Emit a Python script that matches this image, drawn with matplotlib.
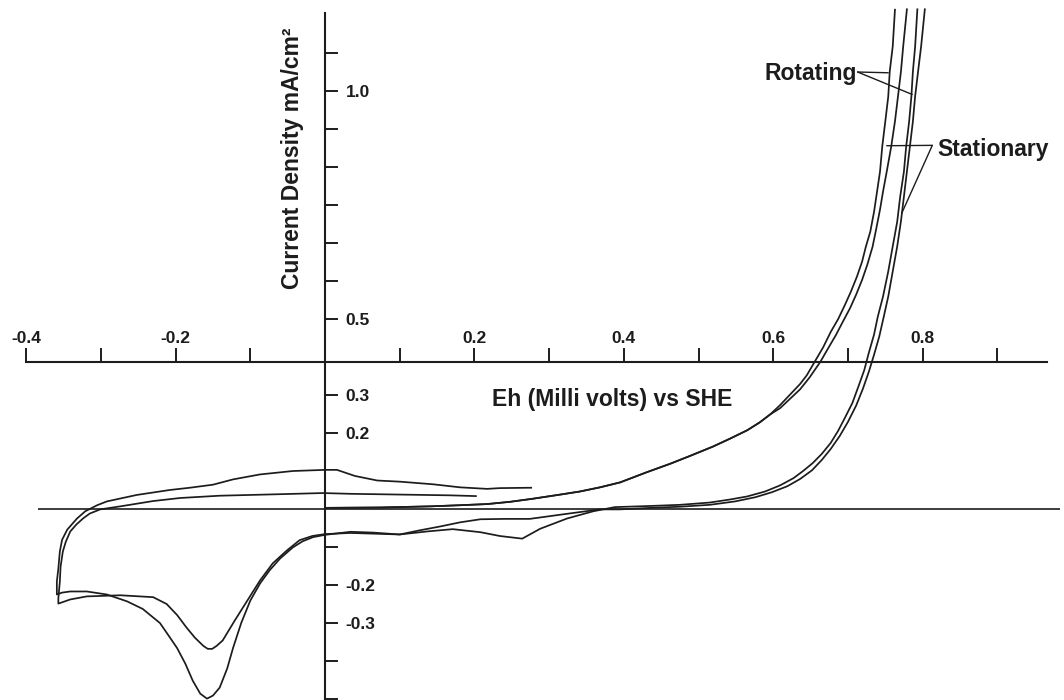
import matplotlib.pyplot as plt

plt.rcParams['font.family'] = ['Liberation Sans', 'DejaVu Sans']
plt.rcParams['font.weight'] = 'bold'

# outer loop: return sweep from 0.28 V down to the vertex, big cathodic peak,
# back along the bottom and up the steep "rotating" branch
loop1_top_eh = [0.276, 0.234, 0.217, 0.181, 0.145, 0.100, 0.070, 0.040, 0.016, 0.0,
                -0.043, -0.087, -0.123, -0.150, -0.181, -0.208, -0.252, -0.292, -0.305,
                -0.321, -0.332, -0.345, -0.352, -0.355, -0.357, -0.359, -0.359]
loop1_top_j = [0.056, 0.055, 0.053, 0.057, 0.065, 0.072, 0.075, 0.087, 0.103, 0.103,
               0.100, 0.091, 0.078, 0.064, 0.056, 0.050, 0.037, 0.020, 0.010,
               -0.006, -0.025, -0.054, -0.081, -0.112, -0.157, -0.191, -0.225]
loop1_bot_eh = [-0.352, -0.341, -0.319, -0.292, -0.265, -0.244, -0.221, -0.208, -0.198,
                -0.187, -0.177, -0.167, -0.158, -0.150, -0.141, -0.131, -0.123, -0.112,
                -0.100, -0.087, -0.074, -0.060, -0.043, -0.030, -0.016, 0.0, 0.034,
                0.064, 0.100, 0.137, 0.171, 0.208, 0.234, 0.264, 0.288, 0.324, 0.359, 0.388]
loop1_bot_j = [-0.220, -0.217, -0.217, -0.225, -0.243, -0.263, -0.300, -0.337, -0.366,
               -0.407, -0.452, -0.486, -0.499, -0.491, -0.470, -0.420, -0.365, -0.299,
               -0.241, -0.196, -0.161, -0.130, -0.101, -0.085, -0.074, -0.068, -0.060,
               -0.062, -0.067, -0.059, -0.053, -0.061, -0.071, -0.078, -0.052, -0.025,
               -0.006, 0.005]
rot_steep_eh = [0.435, 0.475, 0.515, 0.542, 0.565, 0.589, 0.609, 0.627, 0.640, 0.653,
                0.665, 0.677, 0.687, 0.696, 0.706, 0.714, 0.722, 0.728, 0.735, 0.740,
                0.747, 0.754, 0.760, 0.766, 0.770, 0.775, 0.778, 0.782, 0.785, 0.787,
                0.790, 0.793]
rot_steep_j = [0.008, 0.011, 0.017, 0.025, 0.033, 0.046, 0.062, 0.081, 0.100, 0.121,
               0.145, 0.174, 0.206, 0.240, 0.279, 0.322, 0.366, 0.411, 0.459, 0.506,
               0.559, 0.625, 0.691, 0.756, 0.822, 0.888, 0.954, 1.020, 1.086, 1.151,
               1.217, 1.315]

# inner loop: smaller cathodic peak, then the steep "stationary" branch
loop2_top_eh = [0.202, 0.167, 0.100, 0.034, -0.003, -0.060, -0.141, -0.194, -0.230,
                -0.274, -0.301, -0.315, -0.324, -0.333, -0.341, -0.347, -0.351, -0.354,
                -0.355, -0.357, -0.357]
loop2_top_j = [0.034, 0.036, 0.038, 0.040, 0.042, 0.039, 0.035, 0.029, 0.021,
               0.007, -0.001, -0.012, -0.025, -0.041, -0.059, -0.086, -0.112, -0.152,
               -0.191, -0.236, -0.249]
loop2_bot_eh = [-0.341, -0.319, -0.274, -0.230, -0.212, -0.198, -0.185, -0.174, -0.163,
                -0.157, -0.151, -0.145, -0.137, -0.121, -0.104, -0.087, -0.070, -0.051,
                -0.034, -0.017, 0.0, 0.034, 0.067, 0.100, 0.127, 0.154, 0.181, 0.208,
                0.241, 0.274, 0.315, 0.368]
loop2_bot_j = [-0.238, -0.230, -0.227, -0.232, -0.250, -0.279, -0.313, -0.339, -0.360,
               -0.368, -0.368, -0.360, -0.346, -0.294, -0.241, -0.188, -0.143, -0.109,
               -0.082, -0.071, -0.066, -0.063, -0.065, -0.067, -0.056, -0.046, -0.035,
               -0.027, -0.026, -0.026, -0.015, -0.001]
stat_steep_eh = [0.395, 0.435, 0.475, 0.515, 0.549, 0.576, 0.598, 0.619, 0.636, 0.652,
                 0.665, 0.677, 0.689, 0.700, 0.711, 0.720, 0.728, 0.735, 0.742, 0.748,
                 0.754, 0.760, 0.766, 0.771, 0.775, 0.779, 0.783, 0.787, 0.790, 0.794,
                 0.798, 0.803]
stat_steep_j = [-0.001, 0.003, 0.006, 0.011, 0.020, 0.031, 0.044, 0.060, 0.079, 0.102,
                0.129, 0.158, 0.192, 0.229, 0.272, 0.316, 0.361, 0.406, 0.454, 0.506,
                0.559, 0.625, 0.691, 0.757, 0.822, 0.888, 0.954, 1.020, 1.086, 1.152,
                1.217, 1.315]

# gradual anodic branches
rot_rise_eh = [0.0, 0.074, 0.141, 0.181, 0.217, 0.248, 0.278, 0.315, 0.341, 0.368,
               0.395, 0.431, 0.462, 0.489, 0.519, 0.542, 0.565, 0.582, 0.596, 0.609,
               0.622, 0.636, 0.645, 0.656, 0.667, 0.677, 0.687, 0.696, 0.704, 0.712,
               0.719, 0.724, 0.730, 0.735, 0.739, 0.743, 0.746, 0.750, 0.754, 0.756,
               0.760, 0.763]
rot_rise_j = [0.003, 0.004, 0.007, 0.010, 0.013, 0.019, 0.027, 0.038, 0.046, 0.057,
              0.070, 0.097, 0.119, 0.140, 0.164, 0.185, 0.207, 0.228, 0.249, 0.273,
              0.300, 0.329, 0.352, 0.389, 0.426, 0.466, 0.500, 0.537, 0.572, 0.611,
              0.651, 0.690, 0.730, 0.782, 0.835, 0.888, 0.954, 1.019, 1.085, 1.151,
              1.217, 1.314]
stat_rise_eh = [0.0, 0.074, 0.141, 0.181, 0.217, 0.248, 0.278, 0.315, 0.341, 0.368,
                0.395, 0.431, 0.462, 0.489, 0.519, 0.542, 0.565, 0.582, 0.596, 0.609,
                0.622, 0.636, 0.649, 0.663, 0.673, 0.684, 0.693, 0.703, 0.711, 0.719,
                0.726, 0.733, 0.738, 0.743, 0.747, 0.752, 0.758, 0.763, 0.767, 0.771,
                0.774, 0.779]
stat_rise_j = [0.003, 0.004, 0.007, 0.010, 0.013, 0.019, 0.027, 0.038, 0.046, 0.057,
               0.070, 0.097, 0.119, 0.140, 0.164, 0.185, 0.207, 0.228, 0.249, 0.265,
               0.289, 0.315, 0.347, 0.387, 0.421, 0.458, 0.492, 0.529, 0.564, 0.603,
               0.643, 0.690, 0.738, 0.788, 0.835, 0.888, 0.954, 1.020, 1.085, 1.151,
               1.217, 1.315]

# axis ticks as printed on the figure
x_ticks = [-0.4, -0.3, -0.2, -0.1, 0.0, 0.1, 0.2, 0.3, 0.4, 0.5, 0.6, 0.7, 0.8, 0.9]
x_labels = ['-0.4', '', '-0.2', '', '', '', '0.2', '', '0.4', '', '0.6', '', '0.8', '']
y_ticks = [1.2, 1.1, 1.0, 0.9, 0.8, 0.7, 0.6, 0.5, 0.3, 0.2, -0.1, -0.2, -0.3, -0.4, -0.5]
y_labels = ['', '1.0', '', '', '', '', '', '0.5', '0.3', '0.2', '', '-0.2', '-0.3', '', '']

# label leaders: text anchor -> curve points
rot_anchor = (0.713, 1.150)
rot_targets = [(0.754, 1.148), (0.786, 1.091)]
stat_anchor = (0.813, 0.957)
stat_targets = [(0.752, 0.956), (0.772, 0.778)]

ink = '#1c1c1c'

fig = plt.figure(figsize=(10.64, 7.0), dpi=100)
ax = fig.add_axes([0, 0, 1, 1])
ax.set_xlim(-0.4351, 0.9893)
ax.set_ylim(-0.5026, 1.3395)

lw = 1.25
ax.hlines(0, -0.384, 0.984, color=ink, lw=1.2)
ax.plot(loop1_top_eh + loop1_bot_eh + rot_steep_eh,
        loop1_top_j + loop1_bot_j + rot_steep_j, color=ink, lw=lw)
ax.plot(loop2_top_eh + loop2_bot_eh + stat_steep_eh,
        loop2_top_j + loop2_bot_j + stat_steep_j, color=ink, lw=lw)
ax.plot(rot_rise_eh, rot_rise_j, color=ink, lw=lw)
ax.plot(stat_rise_eh, stat_rise_j, color=ink, lw=lw)

# axes crossing at Eh = 0 and at the drawn horizontal scale
ax.spines['left'].set_visible(False)
ax.spines['bottom'].set_visible(False)
ax.spines['top'].set_position(('data', 0.387))
ax.spines['top'].set_bounds(-0.4, 0.967)
ax.spines['right'].set_position(('data', 0.0))
ax.spines['right'].set_bounds(-0.51, 1.305)
for s in ('top', 'right'):
    ax.spines[s].set_color(ink)
    ax.spines[s].set_linewidth(1.5)

ax.xaxis.set_ticks_position('top')
ax.yaxis.set_ticks_position('right')
ax.set_xticks(x_ticks)
ax.set_xticklabels(x_labels)
ax.set_yticks(y_ticks)
ax.set_yticklabels(y_labels)
ax.tick_params(axis='x', direction='out', length=10, width=1.4, pad=1.5,
               labelsize=12.5, colors=ink)
ax.tick_params(axis='y', direction='out', length=9.5, width=1.4, pad=5.5,
               labelsize=12.5, colors=ink)
for t in ax.get_xticklabels() + ax.get_yticklabels():
    t.set_fontweight('bold')

ax.text(-0.0430, 0.923, 'Current Density mA/cm²', rotation=90, ha='center',
        va='center', fontsize=16.5, color=ink)
ax.text(0.2236, 0.271, 'Eh (Milli volts) vs SHE', ha='left', va='baseline',
        fontsize=16.5, color=ink)
ax.text(0.7122, 1.1287, 'Rotating', ha='right', va='baseline', fontsize=16.5, color=ink)
ax.text(0.8193, 0.9282, 'Stationary', ha='left', va='baseline', fontsize=16.5, color=ink)

for anchor, targets in ((rot_anchor, rot_targets), (stat_anchor, stat_targets)):
    for tgt in targets:
        ax.annotate('', xy=tgt, xytext=anchor,
                    arrowprops=dict(arrowstyle='-', color=ink, lw=1.0,
                                    shrinkA=0, shrinkB=0))

fig.savefig('out.png', dpi=100)
